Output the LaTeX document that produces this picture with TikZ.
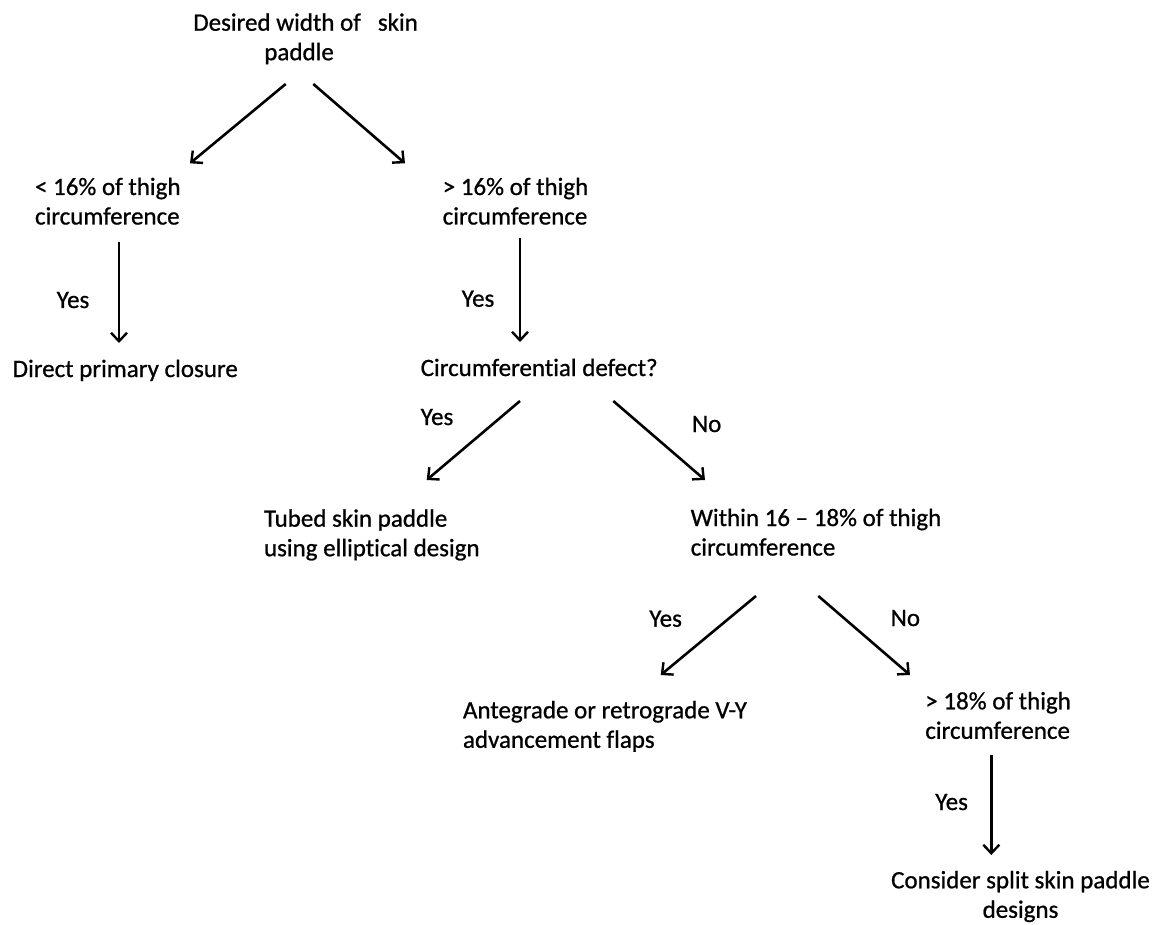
\documentclass[tikz,border=0pt]{standalone}
\usepackage{fontspec}
\setmainfont{Carlito}[Ligatures=NoCommon,FakeBold=0.8]
\usetikzlibrary{arrows.meta,calc}
\newcommand{\twolineL}[1]{\begin{tabular}[t]{@{}l@{}}#1\end{tabular}}
\newcommand{\twolineC}[1]{\begin{tabular}[t]{@{}c@{}}#1\end{tabular}}
\tikzset{
  lbl/.style={inner sep=0pt, outer sep=0pt, anchor=base west},
  arr/.style={line width=2.6pt, -{Straight Barb[length=8.5pt,width=16pt,line width=2.4pt]}},
}
\begin{document}
\begin{tikzpicture}[x=1pt,y=-1pt,font=\fontsize{25}{29.5}\selectfont]
\useasboundingbox (0,0) rectangle (1162,925);
% nodes (positions: left edge, first baseline in image pixels)
\node[lbl] (top) at (193.3,30.7) {\twolineL{Desired width of\ \ \ skin\\\hspace*{71pt}paddle}};
\node[lbl] (lt) at (35,195) {\twolineL{< 16\% of thigh\\circumference}};
\node[lbl] (gt) at (442.7,195) {\twolineL{> 16\% of thigh\\circumference}};
\node[lbl] (yes1) at (56.7,308) {Yes};
\node[lbl] (dpc) at (12.7,377) {Direct primary closure};
\node[lbl] (yes2) at (461.7,306.7) {Yes};
\node[lbl] (circ) at (420.7,376) {Circumferential defect?};
\node[lbl] (yes3) at (420.7,425) {Yes};
\node[lbl] (no1) at (692,432) {No};
\node[lbl] (tubed) at (264,526.7) {\twolineL{Tubed skin paddle\\using elliptical design}};
\node[lbl] (within) at (690.7,526) {\twolineL{Within 16 – 18\% of thigh\\circumference}};
\node[lbl] (yes4) at (649.3,626.7) {Yes};
\node[lbl] (no2) at (890.7,626) {No};
\node[lbl] (ante) at (463,718.3) {\twolineL{Antegrade or retrograde V-Y\\advancement flaps}};
\node[lbl] (gt18) at (925.3,709.3) {\twolineL{> 18\% of thigh\\circumference}};
\node[lbl] (yes5) at (935.3,810) {Yes};
\node[inner sep=0pt, outer sep=0pt, anchor=base] (cons) at (1020.5,888.3) {\twolineC{Consider split skin paddle\\designs}};
% connectors
\draw[arr] ($(top.base west)+(92.4,53.3)$) -- ($(lt.base west)+(155,-31.7)$);
\draw[arr] ($(top.base west)+(120,53.3)$) -- ($(gt.base west)+(-37.7,-31.7)$);
\draw[arr] ($(lt.base west)+(84,46.7)$) -- ($(dpc.base west)+(106.3,-34)$);
\draw[arr] ($(gt.base west)+(77.3,43.3)$) -- ($(circ.base west)+(99.3,-34)$);
\draw[arr] ($(circ.base west)+(99.3,25)$) -- ($(tubed.base west)+(162.7,-46.7)$);
\draw[arr] ($(circ.base west)+(192.6,25)$) -- ($(within.base west)+(14.3,-46)$);
\draw[arr] ($(within.base west)+(65.3,70)$) -- ($(ante.base west)+(197.7,-43.3)$);
\draw[arr] ($(within.base west)+(127.6,70)$) -- ($(gt18.base west)+(-15.3,-34.3)$);
\draw[arr] ($(gt18.base west)+(66,45.7)$) -- ($(cons.base)+(-29.2,-33.3)$);
\end{tikzpicture}
\end{document}
